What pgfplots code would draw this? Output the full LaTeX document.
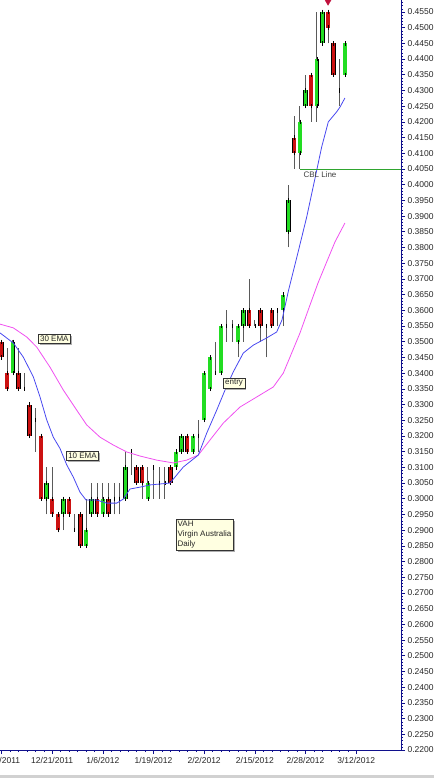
\documentclass[border=0pt]{standalone}
\usepackage{fontspec}
\setmainfont{Liberation Sans}
\usepackage{pgfplots}
\pgfplotsset{compat=1.18}
\usepackage{pgfplotstable}
\usetikzlibrary{shadows}
\definecolor{upgreen}{HTML}{22DD22}
\definecolor{dnred}{HTML}{CC1111}
\definecolor{axisblue}{HTML}{10108C}
\definecolor{emablue}{HTML}{4848F0}
\definecolor{emamag}{HTML}{F050F0}
\definecolor{cblgreen}{HTML}{2FA52F}
\definecolor{notebg}{HTML}{FFFFE1}
\definecolor{wick}{HTML}{5A5A5A}
\definecolor{arrowred}{HTML}{C0103C}

\pgfplotstableread{
i open high low close
2 0.340 0.3505 0.340 0.350
4 0.335 0.340 0.3345 0.335
6 0.325 0.329 0.315 0.325
8 0.300 0.310 0.295 0.305
11 0.295 0.300 0.290 0.300
13 0.290 0.295 0.290 0.290
15 0.285 0.300 0.285 0.290
16 0.295 0.305 0.295 0.300
18 0.295 0.305 0.295 0.300
20 0.300 0.305 0.295 0.300
21 0.300 0.305 0.295 0.300
22 0.300 0.315 0.300 0.310
23 0.315 0.315 0.3075 0.315
26 0.300 0.310 0.300 0.305
27 0.310 0.310 0.300 0.310
28 0.305 0.310 0.300 0.305
29 0.305 0.310 0.300 0.305
31 0.310 0.315 0.310 0.315
32 0.315 0.320 0.315 0.320
34 0.315 0.320 0.315 0.320
35 0.320 0.325 0.315 0.320
36 0.325 0.340 0.325 0.340
37 0.335 0.345 0.335 0.345
38 0.340 0.350 0.340 0.340
39 0.340 0.355 0.340 0.355
40 0.355 0.360 0.350 0.355
41 0.355 0.357 0.350 0.355
42 0.350 0.355 0.345 0.355
43 0.355 0.360 0.350 0.360
45 0.355 0.357 0.355 0.355
47 0.355 0.355 0.345 0.355
49 0.360 0.360 0.355 0.360
50 0.360 0.365 0.355 0.365
51 0.385 0.400 0.380 0.395
53 0.410 0.425 0.405 0.420
54 0.425 0.435 0.425 0.430
56 0.425 0.455 0.420 0.440
57 0.445 0.455 0.445 0.455
60 0.430 0.440 0.425 0.430
61 0.435 0.445 0.435 0.445
}\upc

\pgfplotstableread{
i open high low close
0 0.350 0.3505 0.345 0.345
1 0.340 0.348 0.335 0.335
3 0.340 0.348 0.335 0.335
5 0.330 0.330 0.320 0.320
7 0.320 0.320 0.300 0.300
9 0.300 0.310 0.295 0.295
10 0.295 0.295 0.290 0.290
12 0.300 0.300 0.295 0.295
14 0.295 0.295 0.285 0.285
17 0.300 0.305 0.295 0.295
19 0.300 0.305 0.295 0.295
24 0.310 0.310 0.305 0.305
25 0.310 0.310 0.300 0.305
30 0.310 0.310 0.305 0.305
33 0.320 0.320 0.315 0.315
44 0.360 0.370 0.355 0.355
46 0.360 0.360 0.350 0.355
48 0.360 0.360 0.355 0.355
52 0.415 0.422 0.405 0.410
55 0.435 0.435 0.420 0.425
58 0.455 0.455 0.445 0.450
59 0.445 0.445 0.435 0.435
}\dnc

\pgfplotstableread{
x y
-0.27 0.3528
2.10 0.3496
3.87 0.3451
5.65 0.3388
6.84 0.3324
8.03 0.3251
9.20 0.3196
10.39 0.3160
11.58 0.3108
12.75 0.3069
13.94 0.3021
15.01 0.2996
16.91 0.2996
18.69 0.2986
20.46 0.2986
21.63 0.2999
22.82 0.3031
24.60 0.3037
26.38 0.3044
29.93 0.3050
32.29 0.3101
34.95 0.3139
36.45 0.3209
38.22 0.3282
39.70 0.3346
41.17 0.3404
42.95 0.3464
44.72 0.3489
47.10 0.3512
48.88 0.3531
49.82 0.3569
51.00 0.3665
52.43 0.3767
54.21 0.3897
56.04 0.4050
56.87 0.4120
58.05 0.4200
59.54 0.4232
60.12 0.4247
61.00 0.4276
}\ematen

\pgfplotstableread{
x y
-0.27 0.3556
2.10 0.3544
4.48 0.3515
6.25 0.3483
8.61 0.3419
10.98 0.3346
13.36 0.3282
15.13 0.3235
17.50 0.3196
19.86 0.3171
22.24 0.3149
24.60 0.3136
27.57 0.3123
30.52 0.3114
32.90 0.3123
34.95 0.3139
37.03 0.3187
39.40 0.3241
42.36 0.3292
45.33 0.3324
48.28 0.3356
50.05 0.3400
51.24 0.3451
53.02 0.3528
54.80 0.3617
56.22 0.3687
57.76 0.3754
59.24 0.3818
61.00 0.3878
}\ematirty

\tikzset{note/.style={draw=black!80, fill=notebg, line width=0.4pt, inner sep=1.8pt,
  font=\fontsize{8}{10}\selectfont, text=black!85,
  drop shadow={shadow xshift=1.6pt, shadow yshift=-1.6pt, fill=black!45, opacity=0.7}}}

\pgfplotsset{
  wickstyle/.style={draw=none, forget plot,
    error bars/.cd, y dir=plus, y explicit, error mark=none,
    error bar style={draw=wick, line width=0.9pt}},
  bodyout/.style={draw=none, forget plot,
    error bars/.cd, y dir=both, y explicit, error mark=none,
    error bar style={draw=black, line width=4.4pt}},
  bodyin/.style={draw=none, forget plot,
    error bars/.cd, y dir=both, y explicit, error mark=-,
    error mark options={draw=black, line width=0.5pt, mark size=2.2pt},
    error bar style={draw=#1, line width=3.4pt}},
}

\begin{document}
\begin{tikzpicture}
\begin{axis}[
  at={(0,0)}, anchor=north west,
  scale only axis, width=401pt, height=750pt,
  xmin=-0.27, xmax=70.96, ymin=0.22, ymax=0.4588,
  axis x line*=bottom, axis y line*=right,
  axis line style={axisblue, line width=1pt},
  xtick={0,9,18,27,36,45,54,63},
  xticklabels={12/8/2011,12/21/2011,1/6/2012,1/19/2012,2/2/2012,2/15/2012,2/28/2012,3/12/2012},
  minor x tick num=5,
  ytick distance=0.005, minor y tick num=4,
  scaled y ticks=false,
  tick align=outside, major tick length=4pt, minor tick length=2pt,
  major tick style={axisblue, line width=0.6pt},
  minor tick style={axisblue, line width=0.4pt},
  y tick label style={/pgf/number format/fixed, /pgf/number format/fixed zerofill,
    /pgf/number format/precision=4, /pgf/number format/assume math mode=true, xshift=-1pt},
  ticklabel style={font=\fontsize{8.5}{10}\selectfont, text=black!85},
  xticklabel style={yshift=0pt},
]
% wicks
\addplot[wickstyle] table[x=i, y=low, y error plus expr=\thisrow{high}-\thisrow{low}] {\upc};
\addplot[wickstyle] table[x=i, y=low, y error plus expr=\thisrow{high}-\thisrow{low}] {\dnc};
% bodies
\addplot[bodyout] table[x=i, y expr=(\thisrow{open}+\thisrow{close})/2, y error expr=abs(\thisrow{close}-\thisrow{open})/2] {\upc};
\addplot[bodyout] table[x=i, y expr=(\thisrow{open}+\thisrow{close})/2, y error expr=abs(\thisrow{close}-\thisrow{open})/2] {\dnc};
\addplot[bodyin=upgreen] table[x=i, y expr=(\thisrow{open}+\thisrow{close})/2, y error expr=abs(\thisrow{close}-\thisrow{open})/2] {\upc};
\addplot[bodyin=dnred] table[x=i, y expr=(\thisrow{open}+\thisrow{close})/2, y error expr=abs(\thisrow{close}-\thisrow{open})/2] {\dnc};
% EMAs
\addplot[emamag, line width=0.8pt] table[x=x, y=y] {\ematirty};
\addplot[emablue, line width=0.8pt] table[x=x, y=y] {\ematen};
% CBL line
\addplot[draw=cblgreen, line width=0.9pt] coordinates {(53,0.405) (70.96,0.405)};
% signal marker
\addplot[only marks, mark=triangle*, mark size=4pt, mark options={rotate=180, fill=arrowred, draw=arrowred}] coordinates {(58,0.4584)};
% annotations
\node[note] at (axis cs:9.38,0.3509) {30 EMA};
\node[note] at (axis cs:14.39,0.3136) {10 EMA};
\node[note] at (axis cs:41.3,0.3368) {entry};
\node[note, anchor=north west, align=left] at (axis cs:30.94,0.2935) {VAH\\Virgin Australia\\Daily};
\node[font=\fontsize{8}{10}\selectfont, text=black!75] at (axis cs:56.57,0.4031) {CBL Line};
\end{axis}
\fill[black!18] (0,-775pt) rectangle (434pt,-778pt);
\pgfresetboundingbox
\path[use as bounding box] (0,0) rectangle (434pt,-778pt);
\end{tikzpicture}
\end{document}
